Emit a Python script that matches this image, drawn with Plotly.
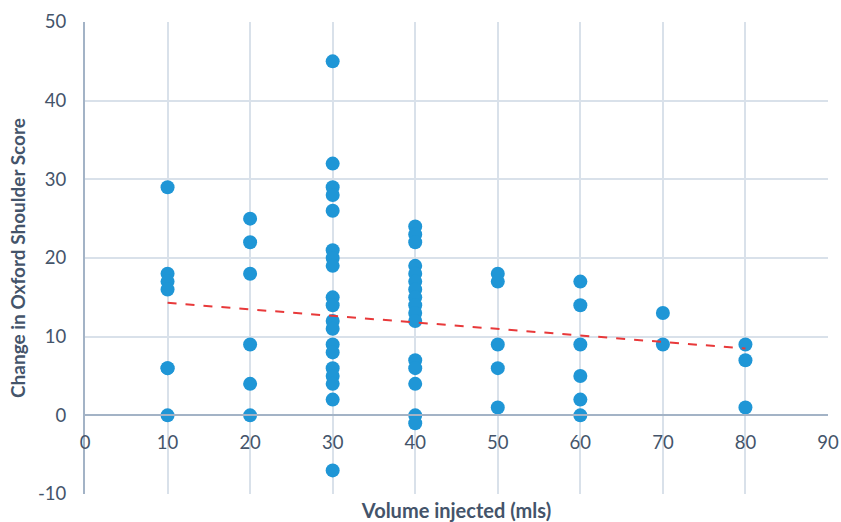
import plotly.graph_objects as go

# Data: volume injected (mls) -> change in Oxford Shoulder Score
vol_10 = [29, 18, 17, 16, 6, 6, 0]
vol_20 = [25, 22, 18, 9, 4, 0]
vol_30 = [45, 32, 29, 28, 26, 21, 20, 19, 15, 14, 12, 11, 9, 8, 6, 5, 4, 2, -7]
vol_40 = [24, 23, 22, 19, 18, 17, 16, 15, 14, 13, 12, 7, 6, 4, 0, -1]
vol_50 = [18, 17, 9, 6, 1]
vol_60 = [17, 14, 9, 5, 2, 0]
vol_70 = [13, 9]
vol_80 = [9, 7, 1]

# Linear trendline as drawn in the chart (endpoints)
trend_x = [10, 80]
trend_y = [14.3, 8.5]

x_ticks = [0, 10, 20, 30, 40, 50, 60, 70, 80, 90]
y_ticks = [-10, 0, 10, 20, 30, 40, 50]
y_tick_labels = ["-10", "0", "10", "20", "30", "40", "50"]

groups = {10: vol_10, 20: vol_20, 30: vol_30, 40: vol_40,
          50: vol_50, 60: vol_60, 70: vol_70, 80: vol_80}

x_vals = []
y_vals = []
for v, scores in groups.items():
    x_vals += [v] * len(scores)
    y_vals += scores

FONT = "Lato"
TXT = "#44546a"
GRID = "#d9e1ea"
AXIS = "#a3b3c6"

fig = go.Figure()
# invisible trace keeps the primary (grid) axis active
fig.add_trace(go.Scatter(x=[0, 90], y=[-10, 50], mode="markers",
                         marker=dict(opacity=0), hoverinfo="skip",
                         showlegend=False, xaxis="x", yaxis="y"))
fig.add_trace(go.Scatter(x=x_vals, y=y_vals, mode="markers",
                         marker=dict(size=14, color="#1f96d6"),
                         showlegend=False, xaxis="x2", yaxis="y"))
fig.add_trace(go.Scatter(x=trend_x, y=trend_y, mode="lines",
                         line=dict(color="#e8393a", width=2, dash="dash"),
                         showlegend=False, xaxis="x2", yaxis="y"))

fig.update_layout(
    width=841, height=522,
    margin=dict(l=85, r=13, t=22, b=28),
    paper_bgcolor="white", plot_bgcolor="white",
    font=dict(family=FONT, color=TXT),
    xaxis=dict(range=[0, 90], tickvals=x_ticks, showticklabels=False,
               showgrid=True, gridcolor=GRID, gridwidth=1.5,
               zeroline=False, showline=False, automargin=False,
               title=dict(text="<b>Volume injected (mls)</b>",
                          font=dict(size=20, color=TXT, family=FONT),
                          standoff=10)),
    xaxis2=dict(range=[0, 90], tickvals=x_ticks, overlaying="x",
                anchor="free", position=1/6, side="bottom",
                showgrid=False, zeroline=False, automargin=False,
                showline=True, linecolor=AXIS, linewidth=2,
                ticks="", ticklabelstandoff=10,
                tickfont=dict(size=18.5, color=TXT, family=FONT)),
    yaxis=dict(range=[-10, 50], tickvals=y_ticks, ticktext=y_tick_labels,
               showgrid=True, gridcolor=GRID, gridwidth=1.5,
               zeroline=False, showline=True, linecolor=AXIS, linewidth=2,
               ticks="", ticklabelstandoff=13, automargin=False,
               tickfont=dict(size=18.5, color=TXT, family=FONT),
               title=dict(text="<b>Change in Oxford Shoulder Score</b>",
                          font=dict(size=19, color=TXT, family=FONT),
                          standoff=7)),
)

# remove the default page margin so the 841x522 figure fills the window exactly
fig.write_html(
    "out.html",
    config={"displayModeBar": False},
    post_script="document.body.style.margin='0';document.body.style.overflow='hidden';",
)
